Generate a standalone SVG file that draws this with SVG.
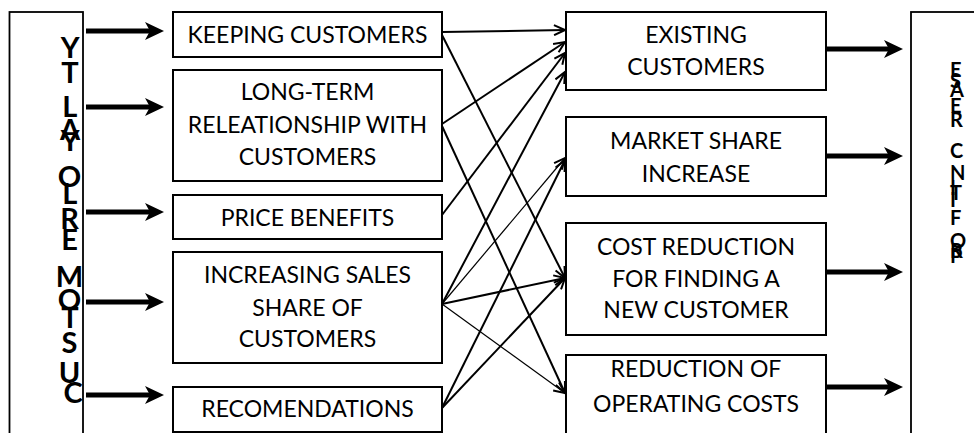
<svg xmlns="http://www.w3.org/2000/svg" width="974" height="433" viewBox="0 0 974 433">
  <defs>
    <style>
      .box{fill:#fff;stroke:#000;stroke-width:2}
      .frame{fill:none;stroke:#000;stroke-width:1.8}
      .lbl{font-family:Lato,"Liberation Sans",sans-serif;font-size:23px;fill:#000;text-anchor:middle}
      .stack{font-family:Lato,"Liberation Sans",sans-serif;font-weight:bold;fill:#000}
      .link{fill:none;stroke:#000;stroke-width:2;marker-end:url(#open)}
      .thin{stroke-width:1.2}
      .shaft{stroke:#000;stroke-width:5}
    </style>
    <marker id="open" markerUnits="userSpaceOnUse" markerWidth="14" markerHeight="12" viewBox="-12 -6 14 12" refX="0" refY="0" orient="auto">
      <path d="M-11,-5 L0,0 L-11,5" fill="none" stroke="#000" stroke-width="2"/>
    </marker>
    <path id="head" d="M0,0 L-19,-9 L-14,0 L-19,9 Z" fill="#000"/>
  </defs>

  <!-- outer frames with stacked vertical titles -->
  <g id="loyalty">
    <rect class="frame" x="9.5" y="12" width="73.5" height="440"/>
    <text class="stack" font-size="29" text-anchor="middle">
      <tspan x="73" y="58">Y</tspan>
      <tspan x="73" y="83">T</tspan>
      <tspan x="73" y="117">L</tspan>
      <tspan x="73" y="140">A</tspan>
      <tspan x="73" y="151">Y</tspan>
      <tspan x="73" y="187">O</tspan>
      <tspan x="73" y="204">L</tspan>
      <tspan x="73" y="229">R</tspan>
      <tspan x="73" y="250">E</tspan>
      <tspan x="73" y="287">M</tspan>
      <tspan x="73" y="310">O</tspan>
      <tspan x="73" y="328">T</tspan>
      <tspan x="73" y="353">S</tspan>
      <tspan x="73" y="383">U</tspan>
      <tspan x="73" y="403">C</tspan>
    </text>
  </g>

  <g id="profit">
    <rect class="frame" x="911" y="12" width="80" height="440"/>
    <text class="stack" font-size="20">
      <tspan x="950" y="77">E</tspan>
      <tspan x="950" y="88">S</tspan>
      <tspan x="950" y="97">A</tspan>
      <tspan x="950" y="113">E</tspan>
      <tspan x="950" y="127">R</tspan>
      <tspan x="950" y="158">C</tspan>
      <tspan x="950" y="180">N</tspan>
      <tspan x="950" y="195">I</tspan>
      <tspan x="950" y="200">T</tspan>
      <tspan x="950" y="207">I</tspan>
      <tspan x="950" y="225">F</tspan>
      <tspan x="950" y="248">O</tspan>
      <tspan x="950" y="258">R</tspan>
      <tspan x="950" y="263">P</tspan>
    </text>
  </g>

  <!-- input arrows into the left column -->
  <g id="inputs">
    <line class="shaft" x1="86" y1="31" x2="150" y2="31"/><use href="#head" x="164" y="31"/>
    <line class="shaft" x1="86" y1="107" x2="150" y2="107"/><use href="#head" x="164" y="107"/>
    <line class="shaft" x1="86" y1="212" x2="150" y2="212"/><use href="#head" x="164" y="212"/>
    <line class="shaft" x1="86" y1="302" x2="150" y2="302"/><use href="#head" x="164" y="302"/>
    <line class="shaft" x1="86" y1="395" x2="150" y2="395"/><use href="#head" x="164" y="395"/>
  </g>

  <!-- left column -->
  <g id="keeping">
    <rect class="box" x="173" y="12" width="269" height="45"/>
    <text class="lbl" x="307.5" y="43">KEEPING CUSTOMERS</text>
  </g>
  <g id="longterm">
    <rect class="box" x="173" y="70" width="269" height="111"/>
    <text class="lbl" x="307.5" y="100">LONG-TERM</text>
    <text class="lbl" x="307.5" y="133">RELEATIONSHIP WITH</text>
    <text class="lbl" x="307.5" y="165">CUSTOMERS</text>
  </g>
  <g id="price">
    <rect class="box" x="173" y="195" width="269" height="44"/>
    <text class="lbl" x="307.5" y="226">PRICE BENEFITS</text>
  </g>
  <g id="increasing">
    <rect class="box" x="173" y="252" width="269" height="111"/>
    <text class="lbl" x="307.5" y="283">INCREASING SALES</text>
    <text class="lbl" x="307.5" y="316">SHARE OF</text>
    <text class="lbl" x="307.5" y="347">CUSTOMERS</text>
  </g>
  <g id="recommendations">
    <rect class="box" x="173" y="387" width="269" height="45"/>
    <text class="lbl" x="307.5" y="417">RECOMENDATIONS</text>
  </g>

  <!-- right column -->
  <g id="existing">
    <rect class="box" x="566" y="12" width="260" height="78"/>
    <text class="lbl" x="696" y="43">EXISTING</text>
    <text class="lbl" x="696" y="75">CUSTOMERS</text>
  </g>
  <g id="market">
    <rect class="box" x="566" y="117" width="260" height="79"/>
    <text class="lbl" x="696" y="149">MARKET SHARE</text>
    <text class="lbl" x="696" y="182">INCREASE</text>
  </g>
  <g id="cost">
    <rect class="box" x="566" y="223" width="260" height="112"/>
    <text class="lbl" x="696" y="255">COST REDUCTION</text>
    <text class="lbl" x="696" y="287">FOR FINDING A</text>
    <text class="lbl" x="696" y="318">NEW CUSTOMER</text>
  </g>
  <g id="operating">
    <rect class="box" x="566" y="355" width="260" height="100"/>
    <text class="lbl" x="696" y="377">REDUCTION OF</text>
    <text class="lbl" x="696" y="412">OPERATING COSTS</text>
  </g>

  <!-- links between the columns -->
  <g id="links">
    <line class="link" x1="442" y1="32" x2="565" y2="30"/>
    <line class="link" x1="442" y1="35" x2="565" y2="278"/>
    <line class="link" x1="442" y1="124" x2="565" y2="42"/>
    <line class="link" x1="442" y1="126" x2="565" y2="393"/>
    <line class="link" x1="442" y1="215" x2="565" y2="53"/>
    <line class="link" x1="442" y1="304" x2="565" y2="72"/>
    <line class="link thin" x1="442" y1="304" x2="565" y2="158"/>
    <line class="link" x1="442" y1="304" x2="565" y2="278"/>
    <line class="link thin" x1="442" y1="304" x2="565" y2="393"/>
    <line class="link" x1="442" y1="408" x2="565" y2="160"/>
    <line class="link" x1="442" y1="408" x2="565" y2="278"/>
  </g>

  <!-- output arrows into the right column -->
  <g id="outputs">
    <line class="shaft" x1="826" y1="49" x2="889" y2="49"/><use href="#head" x="903" y="49"/>
    <line class="shaft" x1="826" y1="156" x2="889" y2="156"/><use href="#head" x="903" y="156"/>
    <line class="shaft" x1="826" y1="272" x2="889" y2="272"/><use href="#head" x="903" y="272"/>
    <line class="shaft" x1="826" y1="387" x2="889" y2="387"/><use href="#head" x="903" y="387"/>
  </g>
</svg>
